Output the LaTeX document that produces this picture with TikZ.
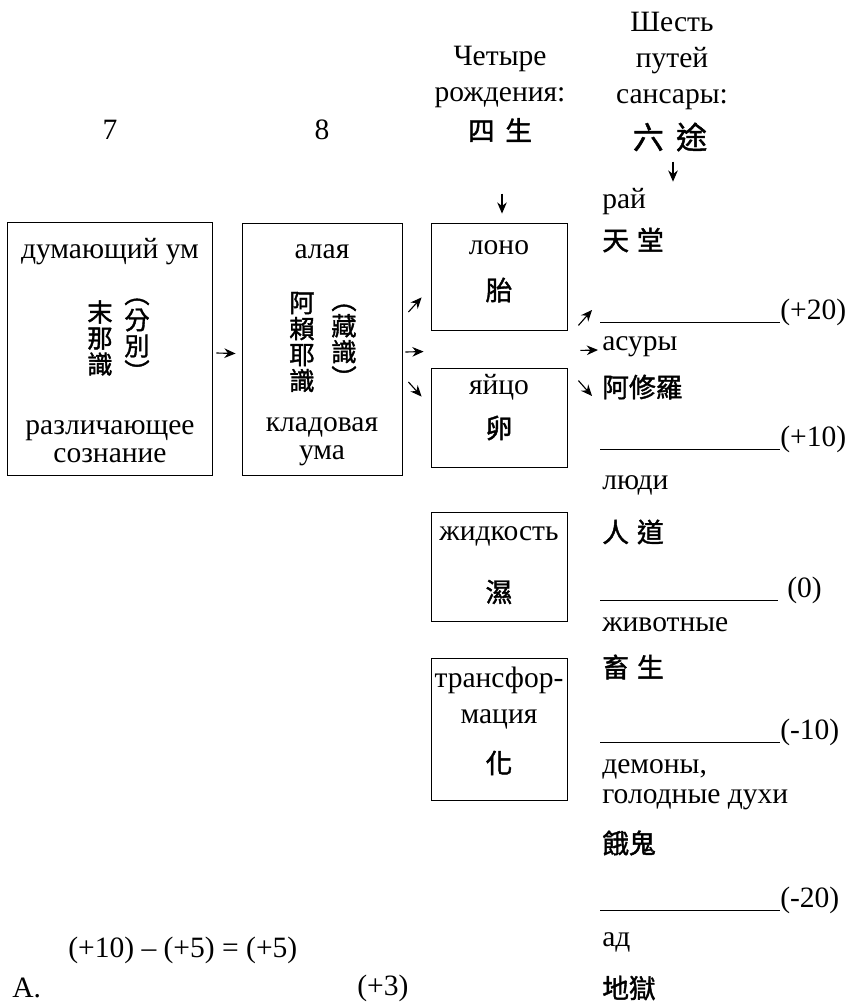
\documentclass[tikz,border=0pt]{standalone}
\usepackage{fontspec}
\setmainfont{Liberation Serif}
\newfontfamily\cjkfont[FakeBold=1.5]{Noto Sans CJK TC}
\usetikzlibrary{positioning,arrows.meta,calc,fit}

\begin{document}
\begin{tikzpicture}[
        x=0.025cm, y=-0.025cm,
        font=\fontsize{21}{25}\selectfont,
        txt/.style={
            inner sep=0pt
        },
        lbl/.style={
            inner sep=0pt,
            anchor=west
        },
        val/.style={
            inner sep=0pt,
            anchor=base west
        },
        box/.style={
            draw=black,
            line width=0.6pt,
            inner sep=0pt
        },
        han/.style={
            inner sep=0pt,
            font=\cjkfont\fontsize{19}{22}\selectfont
        },
        hanl/.style={
            han,
            anchor=west
        },
        hancol/.style={
            inner sep=0pt,
            align=center,
            font=\cjkfont\fontsize{18}{18.5}\selectfont
        },
        arr/.style={
            -{Stealth[length=2.8mm,width=2.4mm]},
            line width=0.8pt
        },
        rul/.style={
            line width=0.7pt
        }
    ]

    \useasboundingbox (0,0) rectangle (856,1005);

    % =========================
    % Headings
    % =========================
    \node[txt] (seven) at (110,130) {7};
    \node[txt] (eight) at (322,130) {8};

    \node[txt, align=center, font=\fontsize{21}{26}\selectfont] (four) at (500,77) {Четыре\\рождения:};
    \node[han] (fourH) at (500,130) {四\hspace{0.4em}生};

    \node[txt, align=center, font=\fontsize{21}{25.5}\selectfont] (six) at (672,61) {Шесть\\путей\\сансары:};
    \node[han, font=\cjkfont\fontsize{22}{22}\selectfont] (sixH) at (670,137) {六\hspace{0.4em}途};

    % =========================
    % Consciousness boxes
    % =========================
    \node[box, fit={(7,222) (212,475)}] (mind) {};
    \node[txt] (mindT) at (110,252) {думающий ум};
    \node[hancol] (mindL) at (100,338) {末\\那\\識};
    \node[hancol] (mindR) at (137,340) {︵\\分\\別\\︶};
    \node[txt, align=center, font=\fontsize{21}{20}\selectfont] (mindB) at (110,442) {различающее\\сознание};

    \node[box, fit={(242,223) (402,475)}] (store) {};
    \node[txt] (storeT) at (322,252) {алая};
    \node[hancol] (storeL) at (302,342) {阿\\賴\\耶\\識};
    \node[hancol] (storeR) at (344,346) {︵\\藏\\識\\︶};
    \node[txt, align=center, font=\fontsize{21}{20}\selectfont] (storeB) at (322,442) {кладовая\\ума};

    % =========================
    % Four births
    % =========================
    \node[box, fit={(431,223) (567,330)}] (womb) {};
    \node[txt] (wombT) at (499,248) {лоно};
    \node[han] (wombH) at (499,290) {胎};

    \node[box, fit={(431,368) (567,467)}] (egg) {};
    \node[txt] (eggT) at (499,387) {яйцо};
    \node[han] (eggH) at (499,428) {卵};

    \node[box, fit={(431,512) (567,621)}] (moist) {};
    \node[txt] (moistT) at (499,536) {жидкость};
    \node[han] (moistH) at (499,592) {濕};

    \node[box, fit={(431,658) (567,800)}] (trans) {};
    \node[txt, align=center, font=\fontsize{21}{26}\selectfont] (transT) at (499,698) {трансфор-\\мация};
    \node[han] (transH) at (499,763) {化};

    % =========================
    % Six paths
    % =========================
    \node[lbl] (heaven) at (602,202) {рай};
    \node[hanl] (heavenH) at (602,240) {天\hspace{0.3em}堂};
    \coordinate (r20) at (600,322);
    \node[val] (v20) at (780,319) {(+20)};

    \node[lbl] (asura) at (602,347) {асуры};
    \node[hanl] (asuraH) at (602,387) {阿修羅};
    \coordinate (r10) at (600,449);
    \node[val] (v10) at (780,446) {(+10)};

    \node[lbl] (human) at (602,485) {люди};
    \node[hanl] (humanH) at (602,532) {人\hspace{0.3em}道};
    \coordinate (r0) at (600,600);
    \node[val] (v0) at (787,597) {(0)};

    \node[lbl] (animal) at (602,625) {животные};
    \node[hanl] (animalH) at (602,667) {畜\hspace{0.3em}生};
    \coordinate (rm10) at (600,742);
    \node[val] (vm10) at (780,739) {(-10)};

    \node[lbl, align=left, font=\fontsize{21}{21.3}\selectfont] (ghost) at (602,785) {демоны,\\голодные духи};
    \node[hanl] (ghostH) at (602,843) {餓鬼};
    \coordinate (rm20) at (600,910);
    \node[val] (vm20) at (780,907) {(-20)};

    \node[lbl] (hell) at (602,942) {ад};
    \node[hanl] (hellH) at (602,988) {地獄};

    \draw[rul] (r20) -- (r20 -| v20.west);
    \draw[rul] (r10) -- (r10 -| v10.west);
    \draw[rul] (r0) -- ($(r0 -| v0.west)+(-9,0)$);
    \draw[rul] (rm10) -- (rm10 -| vm10.west);
    \draw[rul] (rm20) -- (rm20 -| vm20.west);

    % =========================
    % Arrows
    % =========================
    \draw[arr] ($(sixH.south)+(3,10)$) -- ($(sixH.south)+(3,30)$);
    \draw[arr] ($(womb.north)+(3,-29)$) -- ($(womb.north)+(3,-9)$);

    \draw[arr] ($(mind.east)+(4,4.5)$) -- ($(store.west)+(-6,4.5)$);

    \draw[arr] ($(store.east)+(6,-37)$) -- ($(womb.south west)+(-9,-33)$);
    \draw[arr] ($(store.east)+(3,3)$) -- ($(egg.north west)+(-7,-16)$);
    \draw[arr] ($(store.east)+(6,33)$) -- ($(egg.north west)+(-9,29)$);

    \draw[arr] ($(womb.south east)+(11,-5)$) -- ($(r20)+(-8,-12)$);
    \draw[arr] ($(womb.south east)+(13,20)$) -- ($(asura.west)+(-4,3)$);
    \draw[arr] ($(egg.north east)+(11,13)$) -- ($(asuraH.west)+(-10,9)$);

    % =========================
    % Bottom line
    % =========================
    \node[lbl] (diff) at (68,950) {(+10) -- (+5) = (+5)};
    \node[lbl] (mark) at (12,988) {А.};
    \node[lbl] (plus3) at (357,988) {(+3)};

\end{tikzpicture}
\end{document}
